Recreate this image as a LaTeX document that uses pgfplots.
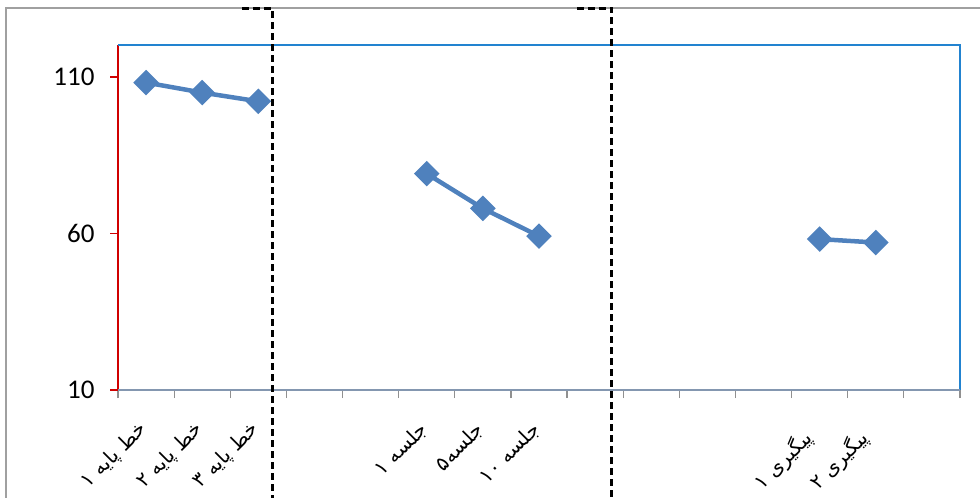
\documentclass[border=0pt]{standalone}
\usepackage{pgfplots}
\pgfplotsset{compat=1.18}
\usepackage{fontspec}
\setmainfont{Carlito}
\newfontfamily\arabicfont[Script=Arabic]{DejaVu Sans}
\TeXXeTstate=1
\definecolor{serblue}{HTML}{4F81BD}
\definecolor{boxblue}{HTML}{2283D0}
\definecolor{axred}{HTML}{D00000}
\definecolor{axgray}{HTML}{8497B0}
\definecolor{tickgray}{HTML}{909090}
\definecolor{framegray}{HTML}{A0A0A0}
\pgfplotsset{serstyle/.style={serblue, line width=4.5pt, mark=square*, mark size=6.8pt, mark options={rotate=45, solid, fill=serblue, draw=serblue}}}
\begin{document}
\begin{tikzpicture}[x=1pt,y=1pt]
\useasboundingbox (0,0) rectangle (980,498);
\draw[framegray, line width=1.5pt] (6,0) -- (6,490) -- (980,490);
\begin{axis}[
  at={(118pt,108pt)}, anchor=south west,
  scale only axis, width=842pt, height=345pt,
  xmin=-0.5, xmax=14.5, ymin=10, ymax=120.2,
  axis line style={draw=none},
  clip=false,
  tick pos=left,
  tick align=outside,
  ytick={10,60,110},
  major y tick style={axred, line width=1.2pt},
  major tick length=8pt,
  yticklabel style={font=\fontsize{27}{27}\selectfont, xshift=-12pt},
  /pgf/number format/assume math mode=true,
  xtick={0,...,14},
  xticklabels={
    {\beginR خط پایه ۱\endR},
    {\beginR خط پایه ۲\endR},
    {\beginR خط پایه ۳\endR},
    {},{},
    {\beginR جلسه ۱\endR},
    {\beginR جلسه۵\endR},
    {\beginR جلسه \beginL ۱۰\endL\endR},
    {},{},{},{},
    {\beginR\hspace*{12pt}پیگیری ۱\endR},
    {\beginR\hspace*{12pt}پیگیری ۲\endR},
    {}},
  major x tick style={draw=none},
  minor xtick={-0.5,0.5,...,14.5},
  minor x tick style={tickgray, line width=1.2pt},
  minor tick length=8pt,
  xticklabel style={font=\arabicfont\fontsize{20}{20}\selectfont, xshift=0pt, yshift=-26pt, rotate=45, anchor=east},
]
\draw[axred, line width=1.5pt] (rel axis cs:0,0) -- (rel axis cs:0,1);
\draw[boxblue, line width=1.5pt] (rel axis cs:0,1) -- (rel axis cs:1,1) -- (rel axis cs:1,0);
\draw[axgray, line width=2pt] (rel axis cs:0,0) -- (rel axis cs:1,0);
\draw[black, line width=3pt, dash pattern=on 7pt off 4pt] (axis cs:1.71,132) -- (axis cs:2.244,132) -- (axis cs:2.244,-24.5);
\draw[black, line width=3pt, dash pattern=on 7pt off 4pt] (axis cs:7.68,132) -- (axis cs:8.30,132) -- (axis cs:8.30,-24.5);
\addplot[serstyle] coordinates {(0,108.2) (1,105.0) (2,102.2)};
\addplot[serstyle] coordinates {(5,79.1) (6,68.0) (7,59.15)};
\addplot[serstyle] coordinates {(12,58.2) (13,57.1)};
\end{axis}
\end{tikzpicture}
\end{document}
